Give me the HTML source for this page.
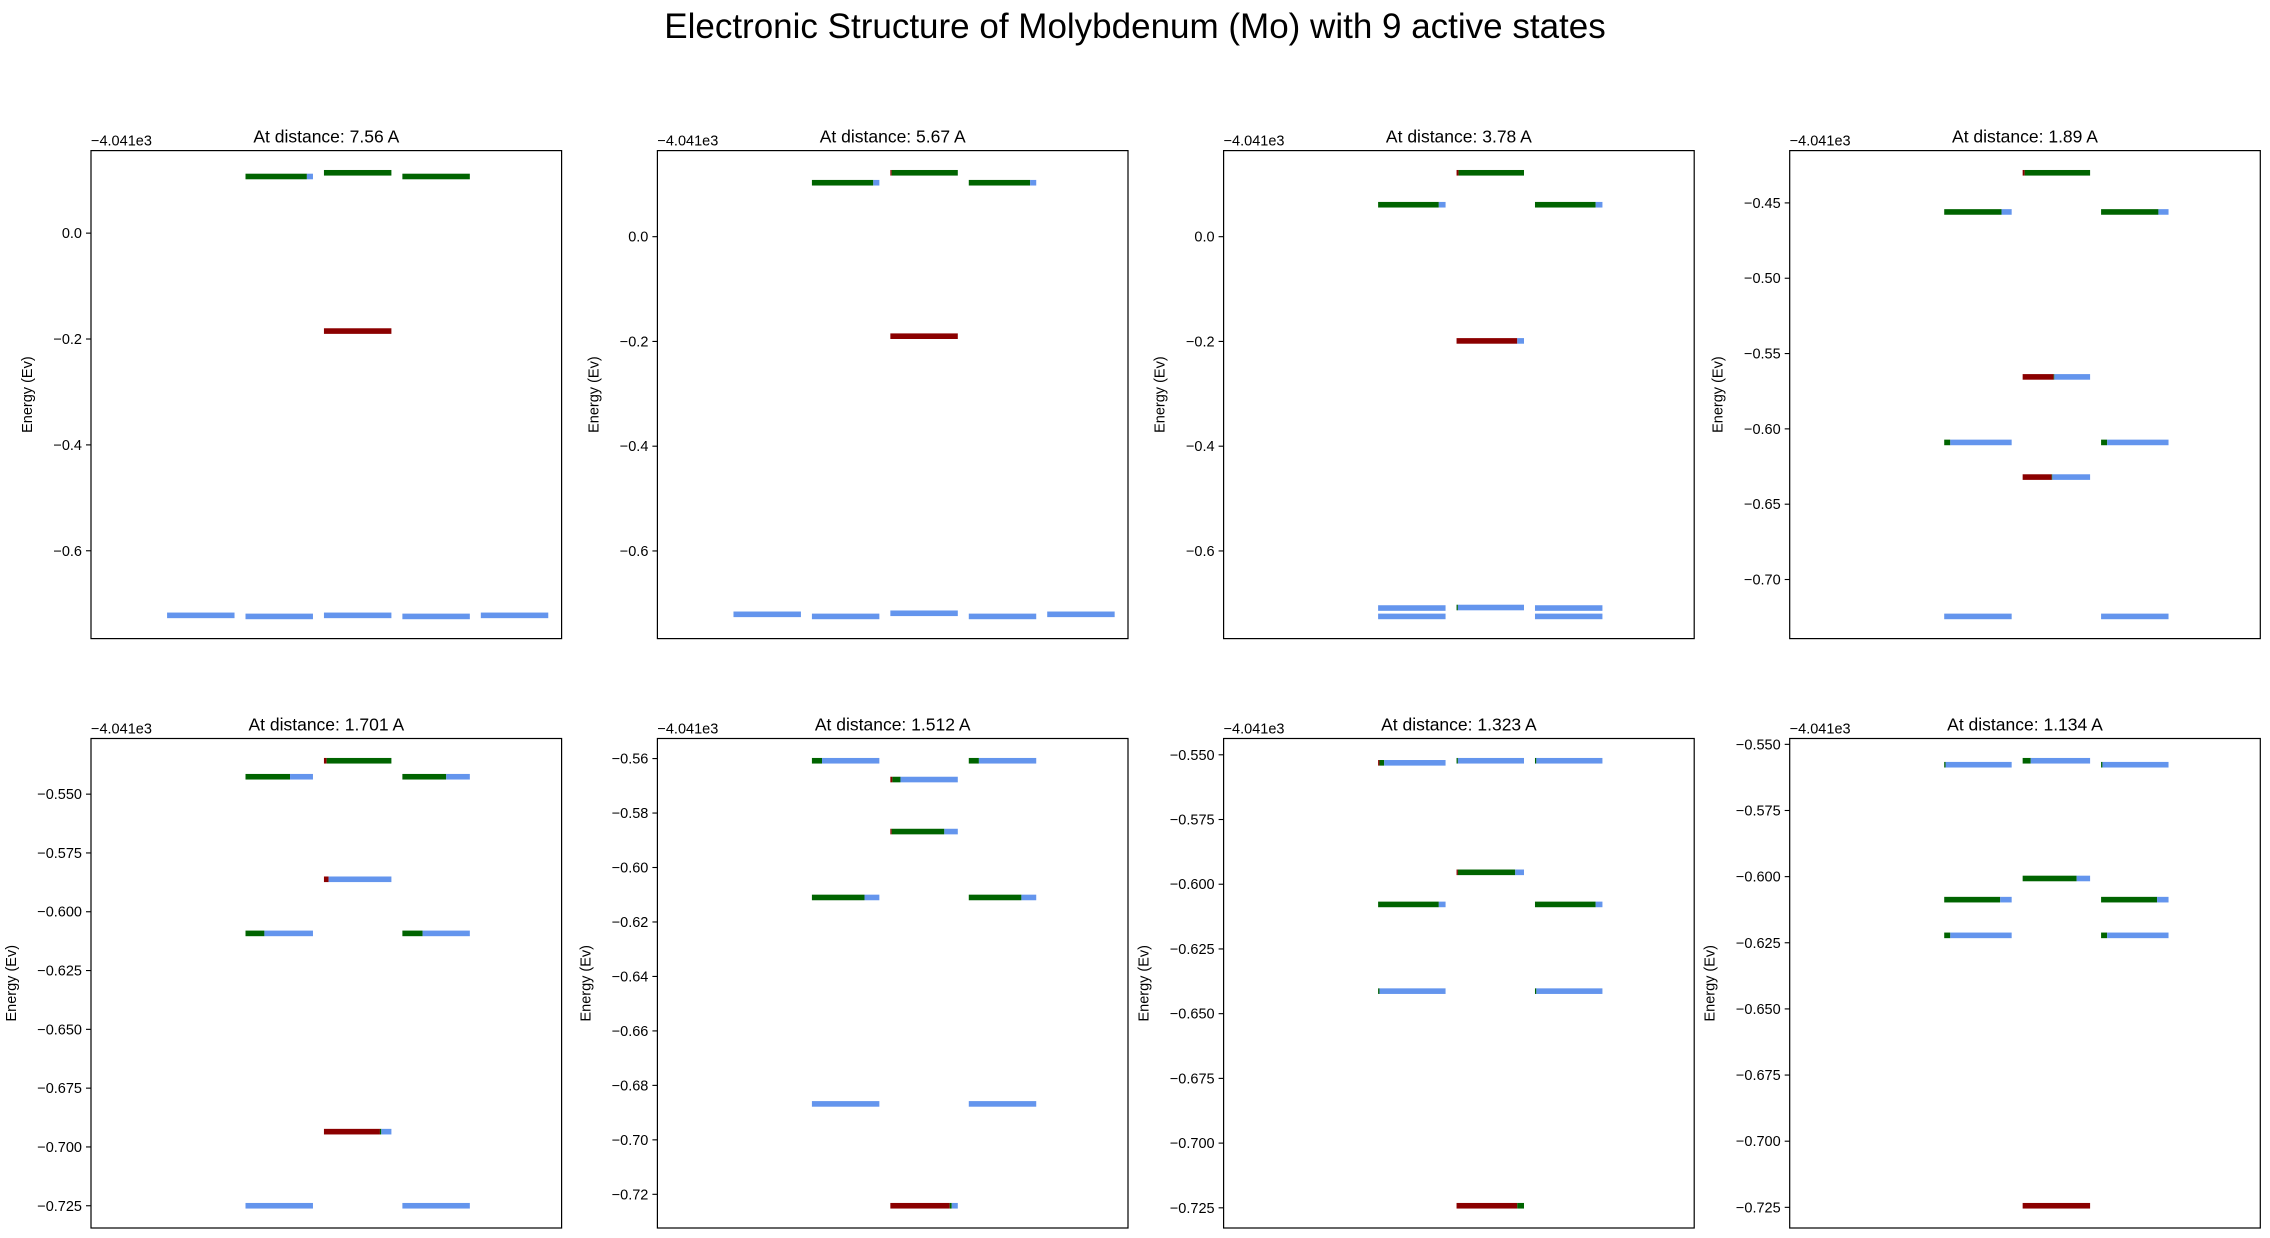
<!DOCTYPE html>
<html><head><meta charset="utf-8"><style>
html,body{margin:0;padding:0;background:#fff;}
svg{display:block;font-family:"Liberation Sans","DejaVu Sans",sans-serif;}
</style></head><body>
<svg id="fig" width="2270" height="1238" viewBox="0 0 2270 1238" xmlns="http://www.w3.org/2000/svg">
<rect width="2270" height="1238" fill="#fff"/>
<text x="1135" y="38" font-size="35" text-anchor="middle" fill="#000">Electronic Structure of Molybdenum (Mo) with 9 active states</text>
</svg>
<script>
// ---- data ----
const distances = ["7.56", "5.67", "3.78", "1.89", "1.701", "1.512", "1.323", "1.134"];
// column index (0..4) of each level
const levelCols = [
  [0,1,1,2,2,2,3,3,4],
  [0,1,1,2,2,2,3,3,4],
  [1,1,1,2,2,2,3,3,3],
  [1,1,1,2,2,2,3,3,3],
  [1,1,1,2,2,2,3,3,3],
  [1,1,1,2,2,2,3,3,3],
  [1,1,1,2,2,2,3,3,3],
  [1,1,1,2,2,2,3,3,3]
];
// energies relative to -4041 eV
const levelEnergies = [
  [-0.722,0.107,-0.724,0.114,-0.185,-0.722,0.107,-0.724,-0.722],
  [-0.721,0.103,-0.725,0.122,-0.190,-0.719,0.103,-0.725,-0.721],
  [0.061,-0.709,-0.725,0.122,-0.199,-0.708,0.061,-0.709,-0.725],
  [-0.456,-0.609,-0.7245,-0.430,-0.5655,-0.632,-0.456,-0.609,-0.7245],
  [-0.5426,-0.6092,-0.725,-0.5358,-0.5862,-0.6935,-0.5426,-0.6092,-0.725],
  [-0.5608,-0.611,-0.6868,-0.5677,-0.5868,-0.7242,-0.5608,-0.611,-0.6868],
  [-0.5531,-0.6078,-0.6413,-0.5523,-0.5954,-0.7242,-0.5523,-0.6078,-0.6413],
  [-0.5577,-0.6087,-0.6222,-0.5562,-0.6007,-0.7244,-0.5577,-0.6087,-0.6222]
];
// fraction of each bar drawn dark red (first), then dark green; the rest is blue
const fracRed = [
  [0,0,0,0,1,0,0,0,0],
  [0,0,0,0.02,1,0,0,0,0],
  [0,0,0,0.03,0.9,0,0,0,0],
  [0,0,0,0.03,0.46,0.43,0,0,0],
  [0,0,0,0.04,0.07,0.83,0,0,0],
  [0,0,0,0.03,0.02,0.88,0,0,0],
  [0.02,0,0,0,0.02,0.9,0,0,0],
  [0,0,0,0,0,1,0,0,0]
];
const fracGreen = [
  [0,0.91,0,1,0,0,1,0,0],
  [0,0.91,0,0.98,0,0,0.91,0,0],
  [0.9,0,0,0.97,0,0.02,0.9,0,0],
  [0.85,0.09,0,0.97,0.01,0.01,0.85,0.09,0],
  [0.66,0.28,0,0.96,0,0.02,0.65,0.30,0],
  [0.15,0.78,0,0.12,0.78,0.03,0.15,0.78,0],
  [0.07,0.9,0.02,0.02,0.85,0.1,0.02,0.9,0.02],
  [0.02,0.83,0.09,0.12,0.8,0,0.02,0.83,0.09]
];
const tickLabels = [
  ["0.0","-0.2","-0.4","-0.6"],
  ["0.0","-0.2","-0.4","-0.6"],
  ["0.0","-0.2","-0.4","-0.6"],
  ["-0.45","-0.50","-0.55","-0.60","-0.65","-0.70"],
  ["-0.550","-0.575","-0.600","-0.625","-0.650","-0.675","-0.700","-0.725"],
  ["-0.56","-0.58","-0.60","-0.62","-0.64","-0.66","-0.68","-0.70","-0.72"],
  ["-0.550","-0.575","-0.600","-0.625","-0.650","-0.675","-0.700","-0.725"],
  ["-0.550","-0.575","-0.600","-0.625","-0.650","-0.675","-0.700","-0.725"]
];
</script>
<script>
const NS = "http://www.w3.org/2000/svg";
const svg = document.getElementById("fig");
const colLeft = [91, 657.4, 1223.6, 1789.7];
const rowTop = [150.6, 738.5];
const AW = 470.6, AH = [488, 489.5];
const XMIN = 0, XMAX = 6, BAR_START = 0.97, BAR_W = 0.86, BAR_H = 5.6;
const RED = "#8b0000", GREEN = "#006400", BLUE = "#6495ed";

function mk(tag, attrs, parent) {
  const e = document.createElementNS(NS, tag);
  for (const k in attrs) e.setAttribute(k, attrs[k]);
  (parent || svg).appendChild(e);
  return e;
}

distances.forEach((d, p) => {
  const ax0 = colLeft[p % 4], ay0 = rowTop[Math.floor(p / 4)], ah = AH[Math.floor(p / 4)];
  const g = mk("g", {});
  
  
  const es = levelEnergies[p];
  const lo = Math.min(...es), hi = Math.max(...es), m = (hi - lo) * 0.05;
  const ymin = lo - m, ymax = hi + m;
  const yS = v => ay0 + (ymax - v) / (ymax - ymin) * ah;
  const xS = v => ax0 + (v - XMIN) / (XMAX - XMIN) * AW;

  es.forEach((e, i) => {
    const x0 = xS(levelCols[p][i] + BAR_START), w = xS(levelCols[p][i] + BAR_START + BAR_W) - x0;
    const y = yS(e) - BAR_H / 2;
    const fr = fracRed[p][i], fg = fracGreen[p][i], fb = Math.max(0, 1 - fr - fg);
    const segs = [[fr, RED, 'red'], [fg, GREEN, 'green'], [fb, BLUE, 'blue']];
    let cx = x0;
    segs.forEach(s => {
      if (s[0] <= 0) return;
      const r = mk("rect", {x: cx.toFixed(2), y: y.toFixed(2), width: (w * s[0]).toFixed(2), height: BAR_H, fill: s[1]}, g);
      
      
      cx += w * s[0];
    });
  });

  const fr = mk("rect", {x: ax0, y: ay0, width: AW, height: ah, fill: "none", stroke: "#000", "stroke-width": 1.2}, g);
  
  

  let maxLen = 0;
  tickLabels[p].forEach(t => {
    const v = parseFloat(t), y = yS(v);
    maxLen = Math.max(maxLen, t.length);
    const tk = mk("line", {x1: ax0 - 5, x2: ax0, y1: y, y2: y, stroke: "#000", "stroke-width": 1.1}, g);
    
    
    const tl = mk("text", {x: ax0 - 9, y: y + 5, "font-size": 14.5, "text-anchor": "end", fill: "#000"}, g);
    
    
    tl.textContent = t.replace("-", "\u2212");
  });

  const lx = ax0 - (27 + 8 * maxLen), ly = ay0 + ah / 2;
  const yl = mk("text", {x: lx, y: ly, "font-size": 14.5, "text-anchor": "middle", fill: "#000", transform: `rotate(-90 ${lx} ${ly})`}, g);
  
  
  yl.textContent = "Energy (Ev)";

  const ot = mk("text", {x: ax0, y: ay0 - 5, "font-size": 14.5, fill: "#000"}, g);
  
  
  ot.textContent = "\u22124.041e3";

  const tt = mk("text", {x: ax0 + AW / 2, y: ay0 - 8, "font-size": 17.5, "text-anchor": "middle", fill: "#000"}, g);
  
  
  tt.textContent = "At distance: " + d + " A";
});
</script>
</body></html>
